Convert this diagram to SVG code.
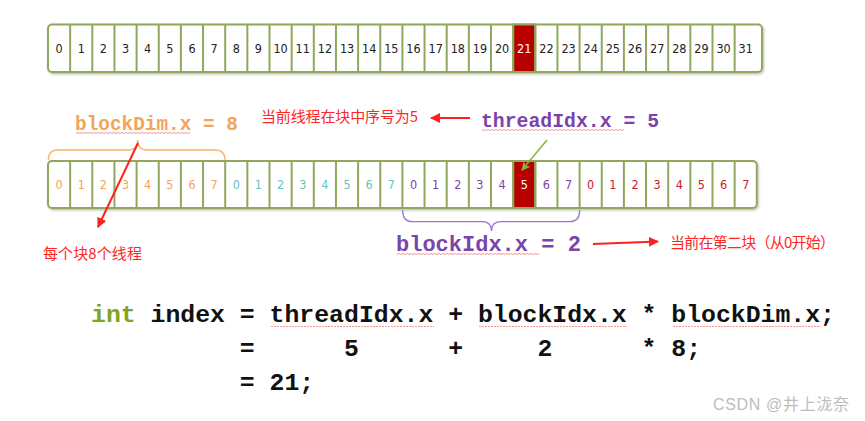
<svg xmlns="http://www.w3.org/2000/svg" width="865" height="421" viewBox="0 0 865 421">
<style>
.box{fill:#fff;stroke:#8fa85c;stroke-width:2}
.div{fill:none;stroke:#8fa85c;stroke-width:2}
.n{font-family:"DejaVu Sans Condensed","DejaVu Sans",sans-serif;font-size:12.5px;text-anchor:middle;fill:#222}
.w{fill:#fff}
.o{fill:#f2a45a}.t{fill:#66c3c4}.p{fill:#7a44a8}.r{fill:#c8202a}
.cn{font-family:"Noto Sans CJK SC",sans-serif;font-size:15px;fill:#ff2626}
.code{font-family:"Liberation Mono",monospace;font-weight:bold}
.sq{fill:none;stroke:#f29a9a;stroke-width:1}
</style>
<defs>
<filter id="sh" x="-5%" y="-20%" width="110%" height="140%"><feDropShadow dx="1" dy="1.5" stdDeviation="1" flood-color="#000" flood-opacity="0.25"/></filter>
<marker id="ar" viewBox="0 0 10 10" refX="9" refY="5" markerWidth="5" markerHeight="5" orient="auto" markerUnits="strokeWidth"><path d="M0,0 L10,5 L0,10 z" fill="#ff2020"/></marker>
<marker id="ag" viewBox="0 0 10 10" refX="9" refY="5" markerWidth="6" markerHeight="6" orient="auto" markerUnits="strokeWidth"><path d="M0,0 L10,5 L0,10 L3,5 z" fill="#8db33a"/></marker>
</defs>

<g id="row-global" filter="url(#sh)">
<rect class="box" x="48" y="24.5" width="714" height="47.5" rx="4"/>
<rect x="513.15" y="24.5" width="22.15" height="47.5" fill="#b80000" stroke="#8fa85c" stroke-width="2"/>
<path class="div" d="M70.15 24.5V72M92.3 24.5V72M114.45 24.5V72M136.6 24.5V72M158.75 24.5V72M180.9 24.5V72M203.05 24.5V72M225.2 24.5V72M247.35 24.5V72M269.5 24.5V72M291.65 24.5V72M313.8 24.5V72M335.95 24.5V72M358.1 24.5V72M380.25 24.5V72M402.4 24.5V72M424.55 24.5V72M446.7 24.5V72M468.85 24.5V72M491 24.5V72M513.15 24.5V72M535.3 24.5V72M557.45 24.5V72M579.6 24.5V72M601.75 24.5V72M623.9 24.5V72M646.05 24.5V72M668.2 24.5V72M690.35 24.5V72M712.5 24.5V72M734.65 24.5V72"/>
</g>
<g id="row-global-labels" class="n">
<text x="59.1" y="52.5">0</text><text x="81.25" y="52.5">1</text><text x="103.4" y="52.5">2</text><text x="125.55" y="52.5">3</text><text x="147.7" y="52.5">4</text><text x="169.85" y="52.5">5</text><text x="192" y="52.5">6</text><text x="214.15" y="52.5">7</text><text x="236.3" y="52.5">8</text><text x="258.45" y="52.5">9</text><text x="280.6" y="52.5">10</text><text x="302.75" y="52.5">11</text><text x="324.9" y="52.5">12</text><text x="347.05" y="52.5">13</text><text x="369.2" y="52.5">14</text><text x="391.35" y="52.5">15</text><text x="413.5" y="52.5">16</text><text x="435.65" y="52.5">17</text><text x="457.8" y="52.5">18</text><text x="479.95" y="52.5">19</text><text x="502.1" y="52.5">20</text><text x="524.25" y="52.5" class="w">21</text><text x="546.4" y="52.5">22</text><text x="568.55" y="52.5">23</text><text x="590.7" y="52.5">24</text><text x="612.85" y="52.5">25</text><text x="635" y="52.5">26</text><text x="657.15" y="52.5">27</text><text x="679.3" y="52.5">28</text><text x="701.45" y="52.5">29</text><text x="723.6" y="52.5">30</text><text x="745.75" y="52.5">31</text>
</g>

<g id="row-blocks" filter="url(#sh)">
<rect class="box" x="48" y="161" width="708.8" height="47" rx="4"/>
<rect x="513.15" y="161" width="22.15" height="47" fill="#b80000" stroke="#8fa85c" stroke-width="2"/>
<path class="div" d="M70.15 161V208M92.3 161V208M114.45 161V208M136.6 161V208M158.75 161V208M180.9 161V208M203.05 161V208M225.2 161V208M247.35 161V208M269.5 161V208M291.65 161V208M313.8 161V208M335.95 161V208M358.1 161V208M380.25 161V208M402.4 161V208M424.55 161V208M446.7 161V208M468.85 161V208M491 161V208M513.15 161V208M535.3 161V208M557.45 161V208M579.6 161V208M601.75 161V208M623.9 161V208M646.05 161V208M668.2 161V208M690.35 161V208M712.5 161V208M734.65 161V208"/>
</g>
<g id="block0" class="n o">
<text x="59.1" y="189">0</text><text x="81.25" y="189">1</text><text x="103.4" y="189">2</text><text x="125.55" y="189">3</text><text x="147.7" y="189">4</text><text x="169.85" y="189">5</text><text x="192" y="189">6</text><text x="214.15" y="189">7</text>
</g>
<g id="block1" class="n t">
<text x="236.3" y="189">0</text><text x="258.45" y="189">1</text><text x="280.6" y="189">2</text><text x="302.75" y="189">3</text><text x="324.9" y="189">4</text><text x="347.05" y="189">5</text><text x="369.2" y="189">6</text><text x="391.35" y="189">7</text>
</g>
<g id="block2" class="n p">
<text x="413.5" y="189">0</text><text x="435.65" y="189">1</text><text x="457.8" y="189">2</text><text x="479.95" y="189">3</text><text x="502.1" y="189">4</text><text x="524.25" y="189" class="w">5</text><text x="546.4" y="189">6</text><text x="568.55" y="189">7</text>
</g>
<g id="block3" class="n r">
<text x="590.7" y="189">0</text><text x="612.85" y="189">1</text><text x="635" y="189">2</text><text x="657.15" y="189">3</text><text x="679.3" y="189">4</text><text x="701.45" y="189">5</text><text x="723.6" y="189">6</text><text x="745.75" y="189">7</text>
</g>

<g id="label-blockDim">
<text class="code" x="75" y="130" font-size="19.4" fill="#f2a45a">blockDim.x = 8</text>
<path class="sq" d="M76 133.5 l2 -1 l2 1 l2 -1 l2 1 l2 -1 l2 1 l2 -1 l2 1 l2 -1 l2 1 l2 -1 l2 1 l2 -1 l2 1 l2 -1 l2 1 l2 -1 l2 1 l2 -1 l2 1 l2 -1 l2 1 l2 -1 l2 1 l2 -1 l2 1 l2 -1 l2 1 l2 -1 l2 1 l2 -1 l2 1 l2 -1 l2 1 l2 -1 l2 1 l2 -1 l2 1 l2 -1 l2 1 l2 -1 l2 1 l2 -1 l2 1 l2 -1 l2 1 l2 -1 l2 1 l2 -1 l2 1 l2 -1 l2 1 l2 -1 l2 1 l2 -1 l2 1 l2 -1"/>
</g>
<g id="label-threadIdx">
<text class="code" x="481" y="127" font-size="19.8" fill="#7a44a8">threadIdx.x = 5</text>
<path class="sq" d="M482 130.5 l2 -1 l2 1 l2 -1 l2 1 l2 -1 l2 1 l2 -1 l2 1 l2 -1 l2 1 l2 -1 l2 1 l2 -1 l2 1 l2 -1 l2 1 l2 -1 l2 1 l2 -1 l2 1 l2 -1 l2 1 l2 -1 l2 1 l2 -1 l2 1 l2 -1 l2 1 l2 -1 l2 1 l2 -1 l2 1 l2 -1 l2 1 l2 -1 l2 1 l2 -1 l2 1 l2 -1 l2 1 l2 -1 l2 1 l2 -1 l2 1 l2 -1 l2 1 l2 -1 l2 1 l2 -1 l2 1 l2 -1 l2 1 l2 -1 l2 1 l2 -1 l2 1 l2 -1 l2 1 l2 -1 l2 1 l2 -1 l2 1 l2 -1 l2 1 l2 -1 l2 1 l2 -1 l2 1 l2 -1 l2 1 l2 -1"/>
</g>
<g id="label-blockIdx">
<text class="code" x="396" y="251" font-size="22" fill="#7a44a8">blockIdx.x = 2</text>
<path class="sq" d="M397 254.5 l2 -1 l2 1 l2 -1 l2 1 l2 -1 l2 1 l2 -1 l2 1 l2 -1 l2 1 l2 -1 l2 1 l2 -1 l2 1 l2 -1 l2 1 l2 -1 l2 1 l2 -1 l2 1 l2 -1 l2 1 l2 -1 l2 1 l2 -1 l2 1 l2 -1 l2 1 l2 -1 l2 1 l2 -1 l2 1 l2 -1 l2 1 l2 -1 l2 1 l2 -1 l2 1 l2 -1 l2 1 l2 -1 l2 1 l2 -1 l2 1 l2 -1 l2 1 l2 -1 l2 1 l2 -1 l2 1 l2 -1 l2 1 l2 -1 l2 1 l2 -1 l2 1 l2 -1 l2 1 l2 -1 l2 1 l2 -1 l2 1 l2 -1 l2 1 l2 -1 l2 1 l2 -1 l2 1 l2 -1 l2 1 l2 -1"/>
</g>
<g id="note-thread"><text class="cn" x="261" y="122" textLength="157">当前线程在块中序号为5</text></g>
<g id="note-block"><text class="cn" x="670" y="248" textLength="165">当前在第二块（从0开始）</text></g>
<g id="note-dim"><text class="cn" x="43" y="259" textLength="99">每个块8个线程</text></g>

<g id="connectors" fill="none">
<path d="M48.3 160 Q48.3 150 58 150 H128 Q137.7 150 137.7 140 Q137.7 150 147.4 150 H215 Q225 150 225 160" stroke="#f6b56a" stroke-width="1.3"/>
<path d="M402.6 210 Q402.6 221.7 412 221.7 H482 Q491.5 221.7 491.5 231 Q491.5 221.7 501 221.7 H570 Q579.7 221.7 579.7 210" stroke="#9a78c8" stroke-width="1.3"/>
<line x1="138" y1="143" x2="98" y2="227" stroke="#ff2020" stroke-width="2" marker-end="url(#ar)"/>
<line x1="470" y1="118" x2="431" y2="118" stroke="#ff2020" stroke-width="2" marker-end="url(#ar)"/>
<line x1="593" y1="244" x2="658" y2="241.5" stroke="#ff2020" stroke-width="2" marker-end="url(#ar)"/>
<line x1="547" y1="140" x2="522" y2="170" stroke="#8db33a" stroke-width="1.5" marker-end="url(#ag)"/>
</g>

<g id="code" class="code" font-size="24.8" fill="#111">
<text x="91" y="322"><tspan fill="#80a51e">int</tspan></text>
<text x="150.5" y="322">index</text>
<text x="239.8" y="322">=</text>
<text x="269.6" y="322">threadIdx.x</text>
<text x="448.2" y="322">+</text>
<text x="477.9" y="322">blockIdx.x</text>
<text x="641.6" y="322">*</text>
<text x="671.3" y="322">blockDim.x;</text>
<path class="sq" d="M271 326.5 h163 M479 326.5 h148 M673 326.5 h148" stroke-dasharray="2 1"/>
<text x="239.8" y="356">=</text>
<text x="343.9" y="356">5</text>
<text x="448.2" y="356">+</text>
<text x="537.4" y="356">2</text>
<text x="641.6" y="356">*</text>
<text x="671.3" y="356">8;</text>
<text x="239.8" y="390">= 21;</text>
</g>
<g id="watermark"><text x="713" y="410" font-family="Liberation Sans,Noto Sans CJK SC,sans-serif" font-size="16" fill="#bdbdbd" textLength="136">CSDN @井上泷奈</text></g>
</svg>
